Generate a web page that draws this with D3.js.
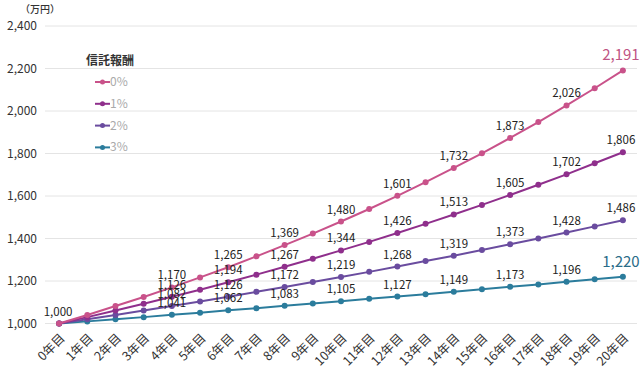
<!DOCTYPE html>
<html lang="ja">
<head>
<meta charset="utf-8">
<title>信託報酬別 資産推移</title>
<script src="https://d3js.org/d3.v7.min.js"></script>
<style>
  body { margin: 0; background: #fff; }
  svg text { font-family: "Noto Sans CJK JP", "Noto Sans", sans-serif; }
</style>
</head>
<body>
<div id="chart"></div>
<script>
// data
var years = ["0年目","1年目","2年目","3年目","4年目","5年目","6年目","7年目","8年目","9年目","10年目",
             "11年目","12年目","13年目","14年目","15年目","16年目","17年目","18年目","19年目","20年目"];
var fee0 = [1000,1040,1082,1125,1170,1217,1265,1316,1369,1423,1480,1539,1601,1665,1732,1801,1873,1948,2026,2107,2191];
var fee1 = [1000,1030,1061,1093,1126,1159,1194,1230,1267,1305,1344,1384,1426,1469,1513,1558,1605,1653,1702,1754,1806];
var fee2 = [1000,1020,1040,1061,1082,1104,1126,1149,1172,1195,1219,1243,1268,1294,1319,1346,1373,1400,1428,1457,1486];
var fee3 = [1000,1010,1020,1030,1041,1051,1062,1072,1083,1094,1105,1116,1127,1138,1149,1161,1173,1184,1196,1208,1220];
var seriesNames = ["0%","1%","2%","3%"];
var yTicks = [1000,1200,1400,1600,1800,2000,2200,2400];
var labelYears = [4,6,8,10,12,14,16,18,20];

var series = [
  {name: seriesNames[0], values: fee0, color: "#c9528a", endColor: "#bf5584"},
  {name: seriesNames[1], values: fee1, color: "#8f2f8c", endColor: null},
  {name: seriesNames[2], values: fee2, color: "#6a4c9f", endColor: null},
  {name: seriesNames[3], values: fee3, color: "#2b7c9c", endColor: "#2a6c88"}
];

var W = 640, H = 370;
var svg = d3.select("#chart").append("svg")
  .attr("width", W).attr("height", H);

var x = d3.scalePoint().domain(years).range([45, 637]).padding(0.5);
var y = d3.scaleLinear().domain([1000, 2400]).range([323.5, 26]);

// grid
svg.append("g").selectAll("line")
  .data(yTicks)
  .enter().append("line")
  .attr("x1", 45).attr("x2", 637)
  .attr("y1", function(d){ return y(d); })
  .attr("y2", function(d){ return y(d); })
  .attr("stroke", "#e4e4e4").attr("stroke-width", 1);

// y axis labels
var yAxis = svg.append("g")
  .attr("transform", "translate(45,0)")
  .call(d3.axisLeft(y).tickValues(yTicks).tickSize(0).tickPadding(8).tickFormat(d3.format(",")));
yAxis.select(".domain").remove();
yAxis.selectAll("text").attr("font-size", 12).attr("fill", "#333")
  .style("font-family", "'Noto Sans CJK JP', sans-serif");

svg.append("text").attr("x", 20).attr("y", 13)
  .attr("font-size", 10).attr("font-weight", 500).attr("fill", "#333").text("（万円）");

// x axis labels
var xAxis = svg.append("g")
  .attr("transform", "translate(0,324)")
  .call(d3.axisBottom(x).tickSize(0).tickPadding(0));
xAxis.select(".domain").remove();
xAxis.selectAll("text")
  .attr("font-size", 12.5).attr("fill", "#333")
  .style("font-family", "'Noto Sans CJK JP', sans-serif")
  .attr("text-anchor", "end")
  .attr("dy", null)
  .attr("transform", "translate(6,15) rotate(-45)");

// lines
var line = d3.line()
  .x(function(d, i){ return x(years[i]); })
  .y(function(d){ return y(d); });

series.slice().reverse().forEach(function(s) {
  svg.append("path")
    .datum(s.values)
    .attr("d", line)
    .attr("fill", "none")
    .attr("stroke", s.color)
    .attr("stroke-width", 2);
  svg.append("g").selectAll("circle")
    .data(s.values)
    .enter().append("circle")
    .attr("cx", function(d, i){ return x(years[i]); })
    .attr("cy", function(d){ return y(d); })
    .attr("r", 3)
    .attr("fill", s.color);
});

// data labels
var fmt = d3.format(",");
series.forEach(function(s) {
  labelYears.forEach(function(i) {
    var big = (i === 20 && s.endColor);
    svg.append("text")
      .attr("x", x(years[i]) + (i === 20 ? -2 : 0))
      .attr("y", y(s.values[i]) - (big ? 10 : 8))
      .attr("text-anchor", "middle")
      .attr("font-size", big ? 15 : 11.5)
      .attr("fill", big ? s.endColor : "#222")
      .text(fmt(s.values[i]));
  });
});
svg.append("text")
  .attr("x", x(years[0]) - 1).attr("y", y(fee0[0]) - 8)
  .attr("text-anchor", "middle").attr("font-size", 11.5).attr("fill", "#222")
  .text(fmt(fee0[0]));

// legend
var legend = svg.append("g");
legend.append("text").attr("x", 86).attr("y", 65)
  .attr("font-size", 12).attr("font-weight", "bold").attr("fill", "#333").text("信託報酬");
series.forEach(function(s, i) {
  var ly = 82 + i * 21.8;
  legend.append("line").attr("x1", 95).attr("x2", 110).attr("y1", ly).attr("y2", ly)
    .attr("stroke", s.color).attr("stroke-width", 2);
  legend.append("circle").attr("cx", 102.5).attr("cy", ly).attr("r", 2.5).attr("fill", s.color);
  legend.append("text").attr("x", 110).attr("y", ly + 4)
    .attr("font-size", 12).attr("fill", "#aaa").text(s.name);
});
</script>
</body>
</html>
